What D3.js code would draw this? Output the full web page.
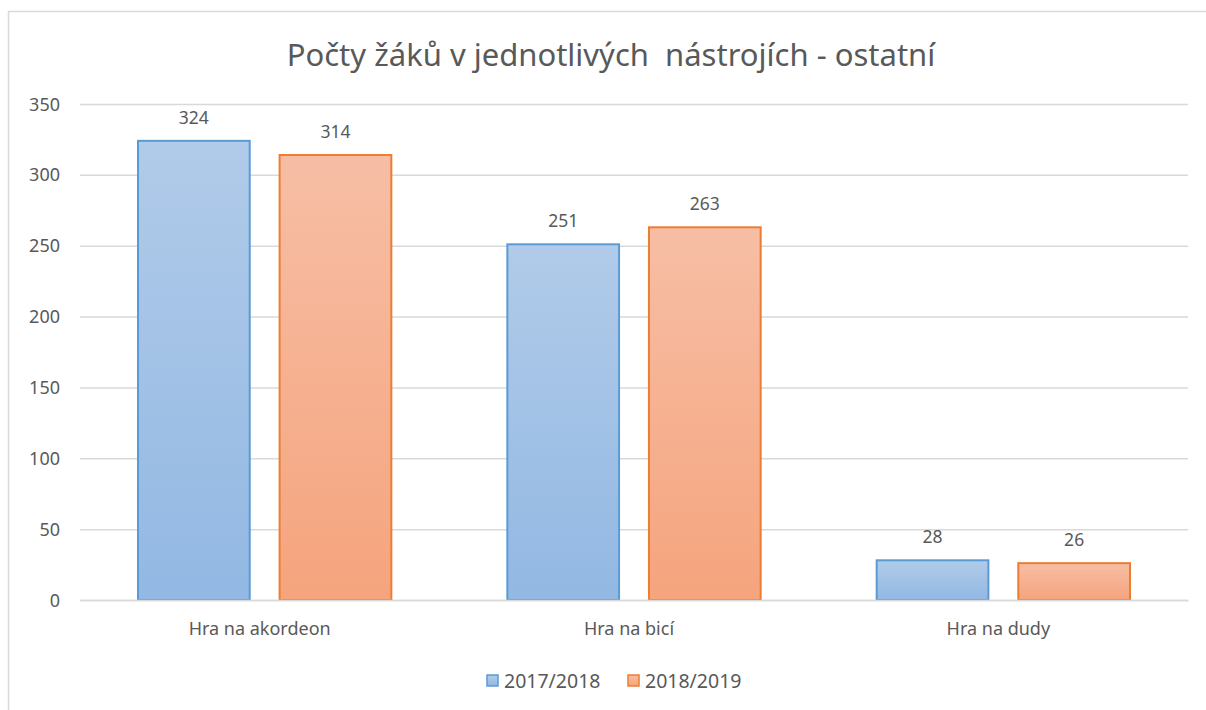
<!DOCTYPE html>
<html lang="cs">
<head>
<meta charset="UTF-8">
<title>Počty žáků v jednotlivých nástrojích - ostatní</title>
<script src="https://d3js.org/d3.v7.min.js"></script>
<style>
  body { margin: 0; background: #fff; }
  svg { font-family: "Noto Sans", "Open Sans", sans-serif; }
  .tick text { fill: #595959; font-size: 18px; font-family: "Noto Sans", "Open Sans", sans-serif; }
  .label { fill: #595959; font-size: 17.5px; text-anchor: middle; }
</style>
</head>
<body>
<div id="chart"></div>
<script>
const categories = ["Hra na akordeon", "Hra na bicí", "Hra na dudy"];
const seriesNames = ["2017/2018", "2018/2019"];
const values2017 = [324, 251, 28];
const values2018 = [314, 263, 26];
const yTicks = [0, 50, 100, 150, 200, 250, 300, 350];

const W = 1206, H = 710;
const margin = {top: 104, right: 18, bottom: 110, left: 80};
const innerW = W - margin.left - margin.right;
const innerH = H - margin.top - margin.bottom;

const svg = d3.select("#chart").append("svg")
  .attr("width", W).attr("height", H);

// outer frame
svg.append("rect").attr("x", 8.5).attr("y", 11.5)
  .attr("width", W + 20).attr("height", H + 20)
  .attr("fill", "none").attr("stroke", "#d9d9d9").attr("stroke-width", 1.5);

const defs = svg.append("defs");
const grads = [
  {id: "gBlue", top: "#b1cbe9", bottom: "#92b8e3"},
  {id: "gOrange", top: "#f7bea5", bottom: "#f5a47d"}
];
grads.forEach(g => {
  const lg = defs.append("linearGradient").attr("id", g.id)
    .attr("x1", 0).attr("y1", 0).attr("x2", 0).attr("y2", 1);
  lg.append("stop").attr("offset", "0%").attr("stop-color", g.top);
  lg.append("stop").attr("offset", "100%").attr("stop-color", g.bottom);
});
const fills = ["url(#gBlue)", "url(#gOrange)"];
const strokes = ["#5b9bd5", "#ed7d31"];

svg.append("text")
  .attr("x", 611).attr("y", 66)
  .attr("text-anchor", "middle")
  .attr("fill", "#595959")
  .style("font-size", "31px")
  .style("white-space", "pre")
  .text("Počty žáků v jednotlivých  nástrojích - ostatní");

const g = svg.append("g").attr("transform", `translate(${margin.left},${margin.top})`);

const x0 = d3.scaleBand().domain(categories).range([0, innerW]).paddingInner(0).paddingOuter(0);
const y = d3.scaleLinear().domain([0, 350]).range([innerH, 0]);

// gridlines
g.append("g")
  .call(d3.axisLeft(y).tickValues(yTicks).tickSize(-innerW).tickPadding(20))
  .call(a => a.select(".domain").remove())
  .call(a => a.selectAll(".tick line").attr("stroke", "#d9d9d9").attr("stroke-width", 1.5))
  .call(a => a.selectAll(".tick text").attr("dy", "0.34em"));

const groupPad = 57;
const x1 = d3.scaleBand().domain(seriesNames)
  .range([groupPad, x0.bandwidth() - groupPad]).paddingInner(0.197);

const data = categories.map((c, i) => ({cat: c, vals: [values2017[i], values2018[i]]}));

const grp = g.selectAll(".grp").data(data).enter().append("g")
  .attr("transform", d => `translate(${x0(d.cat)},0)`);

grp.selectAll("rect").data(d => d.vals.map((v, i) => ({v, i})))
  .enter().append("rect")
  .attr("x", d => x1(seriesNames[d.i]) + 1)
  .attr("width", x1.bandwidth() - 2)
  .attr("y", d => y(d.v))
  .attr("height", d => y(0) - y(d.v))
  .attr("fill", d => fills[d.i])
  .attr("stroke", d => strokes[d.i])
  .attr("stroke-width", 2);

grp.selectAll(".label").data(d => d.vals.map((v, i) => ({v, i})))
  .enter().append("text")
  .attr("class", "label")
  .attr("x", d => x1(seriesNames[d.i]) + x1.bandwidth() / 2)
  .attr("y", d => y(d.v) - 17)
  .text(d => d.v);

// x axis
g.append("g").attr("transform", `translate(0,${innerH})`)
  .call(d3.axisBottom(x0).tickSize(0).tickPadding(22))
  .call(a => a.select(".domain").attr("stroke", "#d9d9d9").attr("stroke-width", 1.5))
  .call(a => a.selectAll(".tick text").attr("dx", -5));

// legend
const legend = svg.append("g").attr("transform", "translate(487,681)");
const legendX = [0, 141];
seriesNames.forEach((s, i) => {
  const lg = legend.append("g").attr("transform", `translate(${legendX[i]},0)`);
  lg.append("rect").attr("x", 0).attr("y", -6).attr("width", 11).attr("height", 11)
    .attr("fill", fills[i]).attr("stroke", strokes[i]).attr("stroke-width", 1.5);
  lg.append("text").attr("x", 17).attr("y", 0).attr("dy", "0.35em")
    .attr("fill", "#595959").style("font-size", "19.5px").text(s);
});
</script>
</body>
</html>
